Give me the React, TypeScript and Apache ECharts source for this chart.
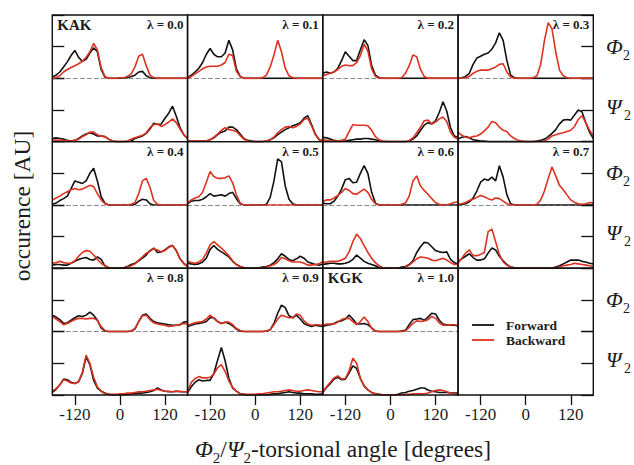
import React, { useEffect, useRef } from "react";
import * as echarts from "echarts";

// torsional angle grid (degrees)
const ANGLES = [-180,-170,-160,-150,-140,-130,-120,-110,-100,-90,-80,-70,-60,-50,-40,-30,-20,-10,0,10,20,30,40,50,60,70,80,90,100,110,120,130,140,150,160,170,180];
const X_TICKS = [-120, 0, 120];
const LAMBDAS = ["0.0","0.1","0.2","0.3","0.4","0.5","0.6","0.7","0.8","0.9","1.0"];
const SERIES_NAMES = ["Forward", "Backward"];
const PEPTIDE_TAGS = ["KAK","","","","","","","","","","KGK"];

// λ = 0.0
const phiF00 = [0.2,0.5,1.0,1.8,2.6,3.6,4.4,3.3,2.7,3.0,4.0,4.8,4.2,1.4,0.2,0,0,0,0,0.1,0.1,0.3,0.5,1.0,1.1,0.4,0.1,0,0,0,0,0,0,0,0,0,0];
const phiB00 = [0,0.1,0.4,1.0,1.4,1.7,2.0,2.3,2.7,3.3,4.2,5.5,4.5,1.7,0.3,0,0,0,0.1,0.1,0.3,0.7,1.8,3.5,3.8,2.0,0.5,0.1,0,0,0,0,0,0,0,0,0];
const psiF00 = [0.5,0.6,0.5,0.4,0.2,0.1,0.2,0.5,0.9,1.2,1.4,1.2,0.9,0.9,0.8,0.4,0.1,0,0,0,0,0.1,0.5,0.7,0.9,1.3,2.0,2.9,2.7,2.8,3.7,4.5,5.6,4.0,2.2,1.1,0.5];
const psiB00 = [0.3,0.2,0.2,0.2,0.1,0.1,0.2,0.4,0.8,1.1,1.5,1.5,1.1,0.9,0.8,0.4,0.1,0,0,0,0.1,0.4,0.6,0.8,1.0,1.4,2.2,2.7,2.8,2.4,2.7,3.1,3.6,3.0,2.0,1.1,0.5];
// λ = 0.1
const phiF01 = [0.1,0.5,1.0,1.6,2.5,3.8,4.7,3.8,3.4,3.4,4.0,6.0,4.5,1.5,0.3,0,0,0,0,0,0,0,0,0,0,0,0,0,0,0,0,0,0,0,0,0,0];
const phiB01 = [0,0.3,0.7,1.1,1.5,1.8,1.9,1.9,1.9,2.1,2.5,3.8,3.6,1.1,0.3,0,0,0,0,0,0.1,0.5,1.8,3.7,6.0,4.2,1.6,0.4,0.1,0,0,0,0,0,0,0,0];
const psiF01 = [0.1,0.1,0.1,0.1,0.1,0.1,0.3,0.6,1.1,1.5,1.7,2.3,2.3,1.9,1.2,0.5,0.2,0.1,0,0,0,0.1,0.3,0.6,1.1,1.5,1.9,2.2,2.5,2.7,3.0,3.7,4.1,2.7,1.2,0.3,0.1];
const psiB01 = [0.1,0.1,0.1,0.1,0.1,0.1,0.3,0.7,1.2,1.8,2.2,1.9,1.8,1.6,1.0,0.4,0.1,0,0,0,0,0.1,0.3,0.7,1.4,1.9,2.3,2.4,2.2,2.4,2.8,3.5,3.7,2.5,1.1,0.4,0.1];
// λ = 0.2
const phiF02 = [0.8,1.0,0.8,1.0,1.6,2.8,4.2,3.5,2.8,2.8,4.5,6.1,5.2,2.0,0.5,0.1,0,0,0,0,0,0,0,0,0,0,0,0,0,0,0,0,0,0,0,0,0];
const phiB02 = [0.4,0.6,0.8,1.0,1.4,1.9,2.1,2.0,2.0,2.5,3.6,5.4,4.3,1.5,0.3,0,0,0,0,0,0,0.1,0.8,2.0,3.7,3.4,1.4,0.3,0,0,0,0,0,0,0,0,0];
const psiF02 = [0.7,0.6,0.4,0.2,0.1,0.1,0.1,0.2,0.3,0.4,0.4,0.5,0.5,0.4,0.3,0.1,0,0,0,0,0,0,0,0.1,0.4,0.9,1.8,2.6,3.0,2.8,3.3,4.6,6.3,4.8,2.2,0.9,0.7];
const psiB02 = [0.3,0.2,0.1,0.1,0.1,0.2,0.4,1.6,2.7,2.6,2.6,2.6,2.5,1.8,0.8,0.3,0.1,0,0,0,0,0,0,0.2,0.6,1.4,2.3,3.3,3.4,2.8,3.1,3.6,3.9,3.2,1.5,0.7,0.4];
// λ = 0.3
const phiF03 = [0,0.1,0.3,0.8,2.2,3.2,3.5,3.8,4.0,4.6,5.6,7.2,6.0,2.8,0.5,0.1,0,0,0,0,0,0,0,0,0,0,0,0,0,0,0,0,0,0,0,0,0];
const phiB03 = [0,0,0.1,0.3,0.8,1.1,1.3,1.3,1.3,1.5,1.8,2.2,2.3,1.0,0.2,0,0,0,0,0,0.1,0.4,2.2,6.0,8.8,7.8,4.2,1.3,0.4,0.1,0,0,0,0,0,0,0];
const psiF03 = [0.4,0.7,0.8,0.6,0.3,0.2,0.1,0.1,0,0,0,0,0,0,0,0,0,0,0,0,0,0.1,0.2,0.4,0.8,1.3,1.9,2.8,3.4,3.5,3.4,4.2,5.0,4.7,3.0,1.5,0.5];
const psiB03 = [1.5,1.0,0.7,0.6,0.8,0.9,1.2,1.7,2.3,3.2,3.0,2.3,1.8,1.6,0.9,0.5,0.2,0.1,0,0,0,0,0,0.1,0.4,0.9,1.1,1.3,1.4,1.6,1.8,2.4,3.5,4.1,3.0,1.8,0.9];
// λ = 0.4
const phiF04 = [0.1,0.3,0.7,1.0,1.4,2.6,3.8,3.6,3.4,3.8,5.0,5.8,3.8,1.3,0.3,0,0,0,0,0,0,0,0.1,0.6,0.9,0.8,0.2,0,0,0,0,0,0,0,0,0,0];
const phiB04 = [0.8,1.1,1.4,1.8,2.1,2.4,2.6,2.4,2.5,2.8,3.1,2.9,1.8,0.8,0.2,0,0,0,0,0,0,0.1,0.4,1.8,3.8,4.2,2.8,0.7,0.1,0,0,0,0,0,0,0,0];
const psiF04 = [0.5,0.6,0.6,0.5,0.5,0.8,1.1,1.4,1.6,1.7,1.4,1.3,1.8,1.4,0.4,0.1,0,0,0,0.1,0.3,0.6,0.8,1.2,1.6,2.1,2.8,3.2,2.5,2.6,2.9,3.4,3.6,2.8,1.5,0.8,0.3];
const psiB04 = [0.8,0.9,1.1,0.9,0.8,0.8,1.2,1.9,2.5,2.8,2.7,2.1,1.4,0.8,0.4,0.1,0,0,0,0,0.2,0.4,0.7,1.3,1.8,2.4,2.7,3.1,2.9,2.6,2.8,3.3,3.6,2.8,1.5,0.7,0.3];
// λ = 0.5
const phiF05 = [0.2,0.6,0.7,0.7,0.9,1.3,1.8,1.4,1.5,1.6,1.4,1.8,2.0,1.0,0.2,0,0,0,0,0,0,0.1,1.2,3.8,7.3,6.8,3.0,0.9,0.2,0,0,0,0,0,0,0,0];
const phiB05 = [0.3,0.8,1.1,1.3,2.0,3.6,5.3,4.5,4.2,4.2,4.3,4.6,3.5,1.6,0.3,0,0,0,0,0,0,0,0,0,0,0,0,0,0,0,0,0,0,0,0,0,0];
const psiF05 = [0.8,0.7,0.6,0.7,1.0,1.6,3.0,3.6,3.0,2.6,2.2,1.8,1.1,0.6,0.3,0.1,0,0,0,0.1,0.2,0.3,0.5,0.9,1.5,2.3,1.9,1.4,1.2,1.5,1.9,1.6,1.0,0.8,0.6,0.5,0.7];
const psiB05 = [1.1,0.9,0.8,1.0,1.4,2.4,3.7,4.2,3.7,3.2,2.6,2.0,1.2,0.6,0.3,0.1,0,0,0,0,0.1,0.2,0.4,0.6,1.0,1.7,1.5,1.2,1.0,1.0,1.0,0.8,0.5,0.5,0.6,0.7,1.1];
// λ = 0.6
const phiF06 = [0.3,0.2,0.2,0.6,1.4,2.5,4.0,4.2,3.5,3.6,5.0,6.2,5.0,2.0,0.3,0,0,0,0,0,0,0,0,0,0,0,0,0,0,0,0,0,0,0,0,0,0];
const phiB06 = [0.6,0.8,0.8,1.1,1.5,2.0,2.6,2.3,1.8,1.7,2.1,2.5,2.0,0.9,0.2,0,0,0,0,0,0,0.1,0.3,1.4,3.8,4.6,3.0,2.3,1.7,1.0,0.4,0.1,0,0,0.2,0.4,0.5];
const psiF06 = [0.6,0.7,0.8,0.8,0.7,0.7,0.8,1.0,1.4,2.1,1.6,1.1,0.8,0.6,0.4,0.1,0,0,0,0,0,0.2,0.3,0.6,1.2,2.5,3.4,4.1,4.0,3.4,2.8,2.6,2.5,2.6,1.4,0.9,0.7];
const psiB06 = [0.9,1.0,1.1,1.1,1.1,1.3,1.6,2.6,4.2,5.4,4.7,3.6,2.5,1.6,0.9,0.4,0.1,0,0,0,0,0,0.2,0.5,1.0,1.5,1.8,1.7,1.6,1.3,1.2,1.4,1.6,1.3,0.9,0.6,0.6];
// λ = 0.7
const phiF07 = [0,0.1,0.2,0.5,1.1,2.2,3.6,4.1,3.9,4.4,3.8,6.2,4.4,1.6,0.2,0,0,0,0,0,0,0,0,0,0,0,0,0,0,0,0,0,0,0,0,0,0];
const phiB07 = [0.1,0.2,0.4,0.7,0.9,1.2,1.5,1.3,1.0,0.8,1.1,1.0,0.6,0.2,0,0,0,0,0,0,0,0.1,0.8,2.2,4.2,6.0,4.6,3.1,2.4,1.6,0.8,0.4,0.2,0.1,0.2,0.4,0.3];
const psiF07 = [1.1,1.5,1.9,2.3,1.7,1.3,1.3,1.5,2.4,3.2,2.9,1.9,1.2,0.6,0.2,0.1,0,0,0,0,0,0,0,0,0,0,0.2,0.4,0.7,1.0,1.3,1.3,1.3,1.1,1.0,0.8,0.7];
const psiB07 = [0.8,1.6,2.4,2.9,2.0,2.0,2.2,2.5,5.8,6.2,4.2,2.2,1.0,0.5,0.2,0.1,0,0,0,0,0,0,0,0,0,0,0.1,0.2,0.4,0.5,0.6,0.8,0.7,0.6,0.5,0.4,0.3];
// λ = 0.8
const phiF08 = [2.6,2.3,1.9,1.3,1.4,1.8,2.2,2.5,2.4,2.6,3.1,2.6,1.8,0.6,0.1,0,0,0,0,0,0,0.1,0.4,1.6,2.6,2.8,2.1,1.6,1.4,1.3,1.2,1.1,1.0,1.0,1.1,1.5,1.6];
const phiB08 = [2.4,2.0,1.6,1.1,1.3,1.6,1.9,2.1,2.1,2.0,2.1,2.1,1.8,0.8,0.2,0,0,0,0,0,0,0.1,0.5,1.6,2.5,2.6,1.9,1.4,1.2,1.1,1.0,0.8,0.9,1.0,1.1,1.3,1.2];
const psiF08 = [0.4,0.9,1.6,2.5,2.4,2.0,1.8,2.1,3.4,6.0,4.8,2.3,1.1,0.6,0.3,0.1,0,0,0,0,0.1,0.2,0.2,0.3,0.3,0.4,0.5,0.7,1.1,0.8,0.6,0.5,0.5,0.6,0.5,0.5,0.5];
const psiB08 = [0.6,1.0,1.6,2.4,2.2,1.9,1.8,2.1,3.6,6.3,5.0,2.8,1.3,0.6,0.2,0.1,0.1,0.1,0.2,0.2,0.3,0.3,0.4,0.5,0.5,0.6,0.7,0.8,0.9,0.7,0.6,0.6,0.5,0.6,0.6,0.5,0.5];
// λ = 0.9
const phiF09 = [0.8,1.0,1.2,1.3,1.4,1.6,2.2,2.2,1.6,1.3,1.5,1.3,0.9,0.4,0.1,0,0,0,0,0,0,0.1,0.3,1.3,2.9,4.2,3.8,2.5,2.2,2.6,2.0,1.3,1.0,0.8,1.0,0.9,0.8];
const phiB09 = [1.0,1.2,1.4,1.5,1.6,2.0,2.6,2.1,1.6,1.3,1.5,1.5,1.1,0.5,0.2,0,0,0,0,0,0,0.1,0.3,1.1,2.0,2.6,2.4,2.2,2.2,2.8,2.6,1.7,1.2,1.0,1.1,1.1,1.0];
const psiF09 = [0.4,1.3,2.0,2.4,2.2,2.3,2.3,3.4,5.5,7.5,5.4,2.6,1.1,0.6,0.2,0.1,0,0,0,0,0,0,0.1,0.2,0.2,0.3,0.4,0.5,0.4,0.3,0.3,0.2,0.2,0.2,0.1,0.1,0.2];
const psiB09 = [0.5,2.0,2.6,2.9,2.7,2.7,2.8,3.3,4.3,4.8,3.7,2.2,1.2,0.6,0.2,0.1,0.1,0.1,0.1,0.2,0.2,0.3,0.4,0.5,0.5,0.6,0.7,0.8,0.7,0.6,0.6,0.7,0.8,0.7,0.6,0.5,0.5];
// λ = 1.0
const phiF10 = [0.8,1.0,1.1,1.3,1.6,1.7,2.0,2.6,2.0,1.2,1.2,1.3,1.1,0.6,0.1,0,0,0,0,0,0,0.1,0.2,1.1,1.9,2.0,2.1,1.8,2.3,2.9,2.8,1.8,1.2,1.1,1.0,1.0,0.9];
const phiB10 = [1.0,1.2,1.2,1.2,1.5,1.9,2.1,2.1,1.6,1.1,1.6,2.3,1.6,0.5,0.1,0,0,0,0,0,0,0,0.1,0.7,1.3,1.7,1.6,1.7,1.9,2.4,2.1,1.4,1.0,1.0,1.1,1.1,1.0];
const psiF10 = [0.4,1.2,1.8,2.5,2.8,2.4,2.5,3.5,4.6,4.2,2.6,1.4,0.8,0.4,0.2,0.1,0,0,0,0,0.1,0.3,0.4,0.6,0.7,0.9,1.1,1.1,0.8,0.6,0.5,0.4,0.4,0.4,0.3,0.3,0.3];
const psiB10 = [0.5,1.3,2.0,2.7,3.0,2.5,2.6,3.8,5.8,5.0,2.6,1.5,0.8,0.4,0.2,0.1,0,0,0,0,0,0,0.1,0.1,0.2,0.2,0.2,0.2,0.3,0.5,0.7,0.8,0.7,0.5,0.3,0.2,0.1];

const PHI_FWD = [phiF00, phiF01, phiF02, phiF03, phiF04, phiF05, phiF06, phiF07, phiF08, phiF09, phiF10];
const PHI_BWD = [phiB00, phiB01, phiB02, phiB03, phiB04, phiB05, phiB06, phiB07, phiB08, phiB09, phiB10];
const PSI_FWD = [psiF00, psiF01, psiF02, psiF03, psiF04, psiF05, psiF06, psiF07, psiF08, psiF09, psiF10];
const PSI_BWD = [psiB00, psiB01, psiB02, psiB03, psiB04, psiB05, psiB06, psiB07, psiB08, psiB09, psiB10];

// layout
const LEFT0 = 52.3;
const COLW = 135.25;
const TOP0 = 15;
const SUBH = 63.33;
const FONT = '"Liberation Serif", "Times New Roman", serif';
const BLACK = "#111111";
const RED = "#dc3220";
const TEXT = "#1c1c1c";

function buildOption() {
  const grid: any[] = [];
  const xAxis: any[] = [];
  const yAxis: any[] = [];
  const series: any[] = [];
  const graphic: any[] = [];

  const addCell = (col: number, row: number, dashed: boolean) => {
    const idx = grid.length;
    const bottom = row === 5;
    grid.push({ left: LEFT0 + col * COLW, top: TOP0 + row * SUBH, width: COLW, height: SUBH, containLabel: false });
    xAxis.push({
      gridIndex: idx, type: "value", min: -180, max: 180,
      axisLine: dashed ? { show: true, onZero: false, lineStyle: { color: "#8a8a8a", width: 1, type: [4, 3] } } : { show: false, onZero: false },
      axisTick: bottom ? { show: true, customValues: X_TICKS, length: 10, lineStyle: { color: BLACK, width: 1.3 } } : { show: false },
      axisLabel: bottom ? { show: true, customValues: X_TICKS, margin: 11, fontFamily: FONT, fontSize: 17, color: TEXT } : { show: false },
      splitLine: { show: false },
    });
    yAxis.push({
      gridIndex: idx, type: "value", min: 0, max: 10, interval: 5,
      show: col === 0 || col === 3,
      position: col === 3 ? "right" : "left",
      axisLine: { show: false, onZero: false },
      axisTick: { show: true, inside: true, length: 12, lineStyle: { color: BLACK, width: 1.3 } },
      axisLabel: { show: false },
      splitLine: { show: false },
    });
    return idx;
  };

  for (let p = 0; p < LAMBDAS.length; p++) {
    const g = Math.floor(p / 4);
    const c = p % 4;
    const sets = [
      [PHI_FWD[p], PHI_BWD[p]],
      [PSI_FWD[p], PSI_BWD[p]],
    ];
    for (let s = 0; s < 2; s++) {
      const idx = addCell(c, 2 * g + s, s === 0);
      sets[s].forEach((arr, k) => {
        series.push({
          type: "line",
          name: SERIES_NAMES[k],
          xAxisIndex: idx,
          yAxisIndex: idx,
          data: ANGLES.map((a, i) => [a, arr[i]]),
          symbol: "none",
          showSymbol: false,
          lineStyle: { color: k === 0 ? BLACK : RED, width: 1.6 },
          itemStyle: { color: k === 0 ? BLACK : RED },
          z: 2 + k,
        });
      });
    }
    // λ label
    graphic.push({
      type: "text", silent: true, z: 20,
      x: LEFT0 + (c + 1) * COLW - 4, y: TOP0 + 2 * g * SUBH + 3,
      style: { text: "λ = " + LAMBDAS[p], align: "right", verticalAlign: "top", fontFamily: FONT, fontWeight: "bold", fontSize: 13, fill: TEXT },
    });
    if (PEPTIDE_TAGS[p]) {
      graphic.push({
        type: "text", silent: true, z: 20,
        x: LEFT0 + c * COLW + 5, y: TOP0 + 2 * g * SUBH + 2,
        style: { text: PEPTIDE_TAGS[p], align: "left", verticalAlign: "top", fontFamily: FONT, fontWeight: "bold", fontSize: 15, fill: TEXT },
      });
    }
  }
  // legend panel (empty cells with axes)
  addCell(3, 4, false);
  addCell(3, 5, false);

  // legend (line samples + labels) inside the empty panel
  const legX = LEFT0 + 3 * COLW + 14;
  const legY = [325, 340];
  SERIES_NAMES.forEach((nm, k) => {
    graphic.push(
      { type: "line", silent: true, z: 20, shape: { x1: legX, y1: legY[k], x2: legX + 22, y2: legY[k] }, style: { stroke: k === 0 ? BLACK : RED, lineWidth: 1.8 } },
      { type: "text", silent: true, z: 20, x: legX + 34, y: legY[k], style: { text: nm, verticalAlign: "middle", fontFamily: FONT, fontWeight: "bold", fontSize: 13.5, fill: TEXT } },
    );
  });

  // frames
  for (let g = 0; g < 3; g++) {
    for (let c = 0; c < 4; c++) {
      graphic.push({
        type: "rect", silent: true, z: 15,
        shape: { x: LEFT0 + c * COLW, y: TOP0 + 2 * g * SUBH, width: COLW, height: 2 * SUBH },
        style: { fill: "none", stroke: BLACK, lineWidth: 1.4 },
      });
    }
    // right-side row labels
    const phiY = TOP0 + 2 * g * SUBH;
    const psiY = TOP0 + (2 * g + 1) * SUBH;
    graphic.push(
      { type: "text", silent: true, x: 606, y: phiY + 31, style: { text: "Φ", verticalAlign: "middle", fontFamily: FONT, fontStyle: "italic", fontSize: 22, fill: TEXT } },
      { type: "text", silent: true, x: 623, y: phiY + 40, style: { text: "2", verticalAlign: "middle", fontFamily: FONT, fontSize: 14, fill: TEXT } },
      { type: "text", silent: true, x: 606, y: psiY + 28, style: { text: "Ψ", verticalAlign: "middle", fontFamily: FONT, fontStyle: "italic", fontSize: 22, fill: TEXT } },
      { type: "text", silent: true, x: 624, y: psiY + 37, style: { text: "2", verticalAlign: "middle", fontFamily: FONT, fontSize: 14, fill: TEXT } },
    );
  }

  // axis titles
  graphic.push({
    type: "text", silent: true, x: 22, y: 206, rotation: Math.PI / 2,
    style: { text: "occurence [AU]", align: "center", verticalAlign: "middle", fontFamily: FONT, fontSize: 23.5, fill: TEXT },
  });
  graphic.push({
    type: "text", silent: true, x: 343, y: 449,
    style: {
      text: "{i|Φ}{s|2}{n|/}{i|Ψ}{s|2}{n|-torsional angle [degrees]}",
      align: "center", verticalAlign: "middle", fontFamily: FONT, fontSize: 23.5, fill: TEXT,
      rich: {
        n: { fontFamily: FONT, fontSize: 23.5, lineHeight: 26, fill: TEXT },
        i: { fontFamily: FONT, fontSize: 23.5, fontStyle: "italic", lineHeight: 26, fill: TEXT },
        s: { fontFamily: FONT, fontSize: 15, lineHeight: 15, padding: [18, 0, 0, 0], fill: TEXT },
      },
    },
  });

  return {
    animation: false,
    backgroundColor: "#ffffff",
    grid, xAxis, yAxis, series, graphic,
  };
}

export default function App() {
  const ref = useRef<HTMLDivElement>(null);
  useEffect(() => {
    if (!ref.current) return;
    const chart = echarts.init(ref.current, undefined, { renderer: "svg" });
    chart.setOption(buildOption() as any);
    return () => chart.dispose();
  }, []);
  return <div ref={ref} style={{ position: "absolute", left: 0, top: 0, width: 634, height: 465 }} />;
}
